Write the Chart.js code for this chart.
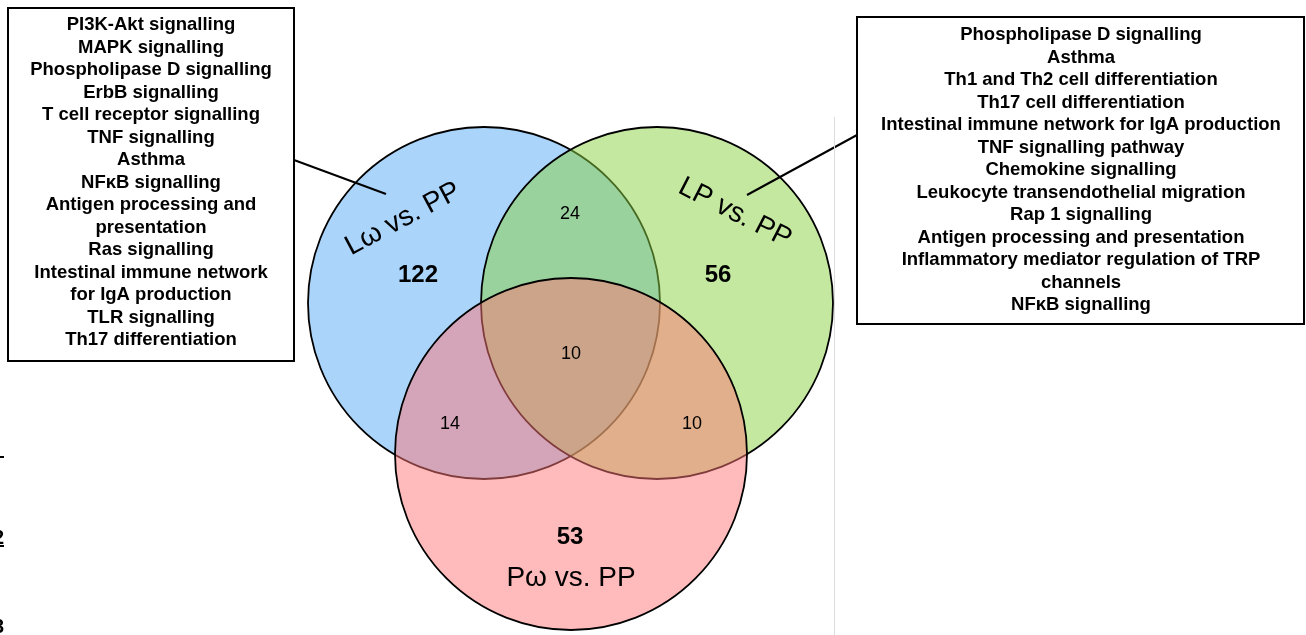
<!DOCTYPE html>
<html>
<head>
<meta charset="utf-8">
<script src="https://cdn.jsdelivr.net/npm/chart.js@4.4.1/dist/chart.umd.min.js"></script>
<style>
  html, body { margin: 0; padding: 0; background: #fff; }
  #wrap { width: 1306px; height: 635px; position: relative; }
</style>
</head>
<body>
<div id="wrap"><canvas id="venn"></canvas></div>
<script>
// sets and counts
const setNames = ['Lω vs. PP', 'LP vs. PP', 'Pω vs. PP'];
const uniqueCounts = [122, 56, 53];
const overlapNames = ['Lω ∩ LP', 'Lω ∩ Pω', 'LP ∩ Pω', 'Lω ∩ LP ∩ Pω'];
const overlapCounts = [24, 14, 10, 10];

// enriched pathways listed in the two callout boxes
const lwPathways = [
  'PI3K-Akt signalling', 'MAPK signalling', 'Phospholipase D signalling',
  'ErbB signalling', 'T cell receptor signalling', 'TNF signalling', 'Asthma',
  'NFκB signalling', 'Antigen processing and', 'presentation', 'Ras signalling',
  'Intestinal immune network', 'for IgA production', 'TLR signalling',
  'Th17 differentiation'
];
const lpPathways = [
  'Phospholipase D signalling', 'Asthma', 'Th1 and Th2 cell differentiation',
  'Th17 cell differentiation', 'Intestinal immune network for IgA production',
  'TNF signalling pathway', 'Chemokine signalling',
  'Leukocyte transendothelial migration', 'Rap 1 signalling',
  'Antigen processing and presentation',
  'Inflammatory mediator regulation of TRP', 'channels', 'NFκB signalling'
];

// layout (chart units = pixels)
const circleX = [484, 657, 571];
const circleY = [303, 303, 454];
const circleR = 176;
const fills = ['rgba(85,169,245,0.5)', 'rgba(137,209,65,0.5)', 'rgba(255,119,119,0.5)'];

const FONT = '"Liberation Sans", Arial, sans-serif';

const vennText = {
  id: 'vennText',
  afterDraw(chart) {
    const ctx = chart.ctx;
    const xs = chart.scales.x, ys = chart.scales.y;
    const px = v => xs.getPixelForValue(v);
    const py = v => ys.getPixelForValue(v);
    ctx.save();
    ctx.fillStyle = '#000';
    ctx.textAlign = 'center';
    ctx.textBaseline = 'middle';

    // set names
    ctx.font = '28px ' + FONT;
    const nameAt = [[403, 219, -28], [735, 213, 27], [571, 578, 0]];
    nameAt.forEach((n, i) => {
      ctx.save();
      ctx.translate(px(n[0]), py(n[1]));
      ctx.rotate(n[2] * Math.PI / 180);
      ctx.fillText(setNames[i], 0, 0);
      ctx.restore();
    });

    // unique counts
    ctx.font = 'bold 24px ' + FONT;
    const uniqAt = [[418, 275], [718, 275], [570, 537]];
    uniqAt.forEach((p, i) => ctx.fillText(uniqueCounts[i], px(p[0]), py(p[1])));

    // overlap counts
    ctx.font = '18px ' + FONT;
    const ovAt = [[570, 214], [450, 424], [692, 424], [571, 354]];
    ovAt.forEach((p, i) => ctx.fillText(overlapCounts[i], px(p[0]), py(p[1])));

    // callout boxes
    ctx.lineWidth = 2;
    ctx.strokeStyle = '#000';
    ctx.strokeRect(px(8), py(8), px(294) - px(8), py(361) - py(8));
    ctx.strokeRect(px(857), py(17), px(1304) - px(857), py(324) - py(17));

    ctx.font = 'bold 18.5px ' + FONT;
    lwPathways.forEach((t, i) => ctx.fillText(t, px(151), py(25 + i * 22.5)));
    lpPathways.forEach((t, i) => ctx.fillText(t, px(1081), py(35 + i * 22.5)));

    // leader lines
    ctx.beginPath();
    ctx.moveTo(px(294), py(160));
    ctx.lineTo(px(386), py(194));
    ctx.moveTo(px(857), py(135));
    ctx.lineTo(px(747), py(195));
    ctx.stroke();

    // faint divider on the right
    ctx.strokeStyle = '#dcdcdc';
    ctx.lineWidth = 1;
    ctx.beginPath();
    ctx.moveTo(px(834.5), py(117));
    ctx.lineTo(px(834.5), py(635));
    ctx.stroke();

    // clipped remnants at the left edge
    ctx.strokeStyle = '#000';
    ctx.lineWidth = 2;
    ctx.beginPath();
    ctx.moveTo(px(0), py(457)); ctx.lineTo(px(4), py(457));
    ctx.moveTo(px(0), py(546)); ctx.lineTo(px(4), py(546));
    ctx.stroke();
    ctx.font = 'bold 20px ' + FONT;
    ctx.textAlign = 'right';
    ctx.fillText('2', px(4), py(538));
    ctx.fillText('3', px(4), py(627));
    ctx.restore();
  }
};

new Chart(document.getElementById('venn'), {
  type: 'bubble',
  data: {
    datasets: [{
      label: 'sets',
      data: circleX.map((cx, i) => ({ x: cx, y: circleY[i], r: circleR })),
      backgroundColor: fills,
      borderColor: '#000',
      borderWidth: 1.8,
      hoverBorderWidth: 1.8,
      clip: false
    }]
  },
  options: {
    responsive: true,
    maintainAspectRatio: false,
    animation: false,
    events: [],
    layout: { padding: 0, autoPadding: false },
    scales: {
      x: { type: 'linear', min: 0, max: 1306, display: false },
      y: { type: 'linear', min: 0, max: 635, reverse: true, display: false }
    },
    plugins: {
      legend: { display: false },
      tooltip: { enabled: false }
    }
  },
  plugins: [vennText]
});
</script>
</body>
</html>
